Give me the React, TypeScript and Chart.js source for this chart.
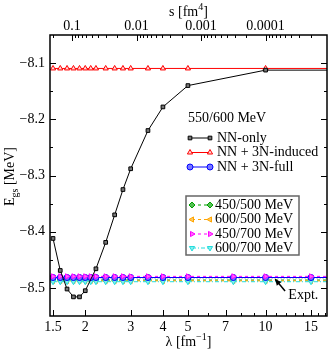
import React, { useEffect, useRef } from 'react';
import { Chart, registerables } from 'chart.js';
import { drawPoint } from 'chart.js/helpers';

Chart.register(...registerables);

const FONT = '"Liberation Serif", "Times New Roman", serif';

// ---- data ----
const lambdaNN = [1.5, 1.6, 1.7, 1.8, 1.9, 2.0, 2.2, 2.4, 2.6, 2.8, 3.0, 3.5, 4.0, 5.0, 10.0, 20.0];
const egsNNOnly = [-8.412, -8.469, -8.502, -8.516, -8.516, -8.505, -8.466, -8.419, -8.370, -8.325, -8.288, -8.220, -8.178, -8.140, -8.1125, -8.1125];

const lambdaInduced = [1.5, 1.6, 1.7, 1.8, 1.9, 2.0, 2.1, 2.2, 2.4, 2.6, 2.8, 3.0, 3.5, 4.0, 5.0, 10.0, 20.0];
const egsInduced = [-8.1095, -8.1095, -8.1095, -8.1095, -8.1095, -8.1095, -8.1095, -8.1095, -8.1095, -8.1095, -8.1095, -8.1095, -8.1095, -8.1095, -8.1095, -8.1095, -8.1095];

const lambdaFull = [1.5, 1.6, 1.7, 1.8, 1.9, 2.0, 2.1, 2.2, 2.4, 2.6, 2.8, 3.0, 3.5, 4.0, 5.0, 7.5, 10.0, 15.0, 20.0];
const egsFull = [-8.4815, -8.4815, -8.4815, -8.4815, -8.4815, -8.4815, -8.4815, -8.4815, -8.4815, -8.4815, -8.4815, -8.4815, -8.4815, -8.4815, -8.4815, -8.4815, -8.4815, -8.4815, -8.4815];
const egs450_500 = [-8.486, -8.486, -8.486, -8.486, -8.486, -8.486, -8.486, -8.486, -8.486, -8.486, -8.486, -8.486, -8.486, -8.486, -8.486, -8.486, -8.486, -8.486, -8.486];
const egs600_500 = [-8.4875, -8.4875, -8.4875, -8.4875, -8.4875, -8.4875, -8.4875, -8.4875, -8.4875, -8.4875, -8.4875, -8.4875, -8.4875, -8.4875, -8.4875, -8.4875, -8.4875, -8.4875, -8.4875];
const egs450_700 = [-8.4795, -8.4795, -8.4795, -8.4795, -8.4795, -8.4795, -8.4795, -8.4795, -8.4795, -8.4795, -8.4795, -8.4795, -8.4795, -8.4795, -8.4795, -8.4795, -8.4795, -8.4795, -8.4795];
const egs600_700 = [-8.489, -8.489, -8.489, -8.489, -8.489, -8.489, -8.489, -8.489, -8.489, -8.489, -8.489, -8.489, -8.489, -8.489, -8.489, -8.489, -8.489, -8.489, -8.489];

const lambdaExpt = [1.0, 20.0];
const egsExpt = [-8.482, -8.482];

const legend1Title = '550/600 MeV';
const legend1Labels = ['NN-only', 'NN + 3N-induced', 'NN + 3N-full'];
const legend2Labels = ['450/500 MeV', '600/500 MeV', '450/700 MeV', '600/700 MeV'];
const exptLabel = 'Expt.';

// ---- axes ----
const xMin = 1.46;
const xMax = 17.3;
const yMin = -8.55;
const yMax = -8.05;
const xMajor = [1.5, 2, 3, 4, 5, 7, 10, 15];
const xMinor = [6, 8, 9, 11, 12, 13, 14, 16, 17];
const xLabels = ['1.5', '2', '3', '4', '5', '7', '10', '15'];
const yMajor = [-8.5, -8.4, -8.3, -8.2, -8.1];
const yMinor = [-8.45, -8.35, -8.25, -8.15];
const sMajor = [0.1, 0.01, 0.001, 0.0001];
const sLabels = ['0.1', '0.01', '0.001', '0.0001'];
const sMinorMantissa = [2, 3, 4, 5, 6, 7, 8, 9];
const sMinorExp = [-1, -2, -3, -4, -5];

const lamOfS = (s: number) => Math.pow(s, -0.25);
const sMinor: number[] = [];
sMinorExp.forEach((e) => sMinorMantissa.forEach((m) => sMinor.push(m * Math.pow(10, e))));

const pts = (xs: number[], ys: number[]) => xs.map((x, i) => ({ x, y: ys[i] }));

function drawLegendRow(ctx: CanvasRenderingContext2D, ds: any, x1: number, x2: number, y: number, tx: number, label: string) {
  ctx.save();
  ctx.strokeStyle = ds.borderColor;
  ctx.lineWidth = ds.borderWidth;
  ctx.setLineDash(ds.borderDash || []);
  ctx.beginPath();
  ctx.moveTo(x1, y);
  ctx.lineTo(x2, y);
  ctx.stroke();
  ctx.setLineDash([]);
  ctx.fillStyle = ds.pointBackgroundColor;
  ctx.strokeStyle = ds.pointBorderColor;
  ctx.lineWidth = 1;
  const po = { pointStyle: ds.pointStyle, radius: ds.pointRadius, rotation: ds.pointRotation || 0, borderWidth: 1 };
  drawPoint(ctx, po as any, x1, y);
  drawPoint(ctx, po as any, x2, y);
  ctx.fillStyle = '#000';
  ctx.font = `14px ${FONT}`;
  ctx.textAlign = 'left';
  ctx.textBaseline = 'middle';
  ctx.fillText(label, tx, y);
  ctx.restore();
}

const decorPlugin = {
  id: 'decor',
  afterDatasetsDraw(chart: any) {
    const { ctx, chartArea: a, scales } = chart;
    const xs = scales.x;
    const ys = scales.y;
    const MAJ = 6;
    const MIN = 3;
    ctx.save();
    ctx.strokeStyle = '#000';
    ctx.lineWidth = 1;
    const tick = (px: number, py: number, dx: number, dy: number) => {
      ctx.beginPath();
      ctx.moveTo(px, py);
      ctx.lineTo(px + dx, py + dy);
      ctx.stroke();
    };
    xMajor.forEach((v) => tick(Math.round(xs.getPixelForValue(v)) + 0.5, a.bottom, 0, -MAJ));
    xMinor.forEach((v) => {
      if (v < xMax) tick(Math.round(xs.getPixelForValue(v)) + 0.5, a.bottom, 0, -MIN);
    });
    sMajor.forEach((s) => {
      const l = lamOfS(s);
      if (l > xMin && l < xMax) tick(Math.round(xs.getPixelForValue(l)) + 0.5, a.top, 0, MAJ);
    });
    sMinor.forEach((s) => {
      const l = lamOfS(s);
      if (l > xMin && l < xMax) tick(Math.round(xs.getPixelForValue(l)) + 0.5, a.top, 0, MIN);
    });
    yMajor.forEach((v) => {
      const p = Math.round(ys.getPixelForValue(v)) + 0.5;
      tick(a.left, p, MAJ, 0);
      tick(a.right, p, -MAJ, 0);
    });
    yMinor.forEach((v) => {
      const p = Math.round(ys.getPixelForValue(v)) + 0.5;
      tick(a.left, p, MIN, 0);
      tick(a.right, p, -MIN, 0);
    });
    ctx.lineWidth = 1.5;
    ctx.strokeRect(a.left, a.top, a.right - a.left, a.bottom - a.top);

    // axis titles
    ctx.fillStyle = '#000';
    ctx.textBaseline = 'alphabetic';
    ctx.textAlign = 'left';
    const big = `14px ${FONT}`;
    const small = `10px ${FONT}`;
    const drawParts = (parts: [string, string, number][], cx: number, base: number) => {
      let w = 0;
      parts.forEach(([t, f]) => { ctx.font = f; w += ctx.measureText(t).width; });
      let x = cx - w / 2;
      parts.forEach(([t, f, dy]) => { ctx.font = f; ctx.fillText(t, x, base + dy); x += ctx.measureText(t).width; });
    };
    const cx = (a.left + a.right) / 2;
    drawParts([['s [fm', big, 0], ['4', small, -6], [']', big, 0]], cx, 16);
    drawParts([['\u03bb [fm', big, 0], ['\u22121', small, -6], [']', big, 0]], cx, 346);
    ctx.save();
    ctx.translate(14, (a.top + a.bottom) / 2 + 1);
    ctx.rotate(-Math.PI / 2);
    drawParts([['E', big, 0], ['gs', small, 4], [' [MeV]', big, 0]], 0, 0);
    ctx.restore();

    // legends
    const dsets = chart.data.datasets;
    ctx.font = big;
    ctx.textBaseline = 'middle';
    ctx.fillText(legend1Title, 188, 118);
    drawLegendRow(ctx, dsets[0], 190, 210, 138, 217, legend1Labels[0]);
    drawLegendRow(ctx, dsets[1], 190, 210, 152.5, 217, legend1Labels[1]);
    drawLegendRow(ctx, dsets[2], 190, 210, 167, 217, legend1Labels[2]);

    ctx.fillStyle = '#fff';
    ctx.fillRect(186, 196, 113, 59);
    ctx.strokeStyle = '#666';
    ctx.lineWidth = 1.5;
    ctx.strokeRect(186, 196, 113, 59);
    drawLegendRow(ctx, dsets[3], 192, 210, 205, 215, legend2Labels[0]);
    drawLegendRow(ctx, dsets[4], 192, 210, 219.5, 215, legend2Labels[1]);
    drawLegendRow(ctx, dsets[5], 192, 210, 234, 215, legend2Labels[2]);
    drawLegendRow(ctx, dsets[6], 192, 210, 248, 215, legend2Labels[3]);

    // Expt. annotation
    const tipX = xs.getPixelForValue(10.9);
    const tipY = ys.getPixelForValue(-8.4845);
    const tailX = xs.getPixelForValue(11.9);
    const tailY = ys.getPixelForValue(-8.5055);
    ctx.strokeStyle = '#000';
    ctx.fillStyle = '#000';
    ctx.lineWidth = 1.5;
    ctx.beginPath();
    ctx.moveTo(tailX, tailY);
    ctx.lineTo(tipX, tipY);
    ctx.stroke();
    const ang = Math.atan2(tipY - tailY, tipX - tailX);
    const hl = 6;
    const hw = 3;
    ctx.beginPath();
    ctx.moveTo(tipX, tipY);
    ctx.lineTo(tipX - hl * Math.cos(ang) + hw * Math.sin(ang), tipY - hl * Math.sin(ang) - hw * Math.cos(ang));
    ctx.lineTo(tipX - hl * Math.cos(ang) - hw * Math.sin(ang), tipY - hl * Math.sin(ang) + hw * Math.cos(ang));
    ctx.closePath();
    ctx.fill();
    ctx.font = big;
    ctx.textBaseline = 'middle';
    ctx.textAlign = 'left';
    ctx.fillText(exptLabel, xs.getPixelForValue(12.25), ys.getPixelForValue(-8.513));
    ctx.restore();
  },
};

export default function App() {
  const ref = useRef<HTMLCanvasElement | null>(null);
  useEffect(() => {
    document.body.style.margin = '0';
    const canvas = ref.current;
    if (!canvas) return;
    const base = { borderWidth: 1, pointRadius: 3, pointBorderWidth: 1, tension: 0, fill: false };
    const chart = new Chart(canvas, {
      type: 'line',
      data: {
        datasets: [
          { ...base, label: legend1Labels[0], data: pts(lambdaNN, egsNNOnly), borderColor: '#000', pointBorderColor: '#000', pointBackgroundColor: '#777', pointStyle: 'rect', pointRadius: 2.6, order: 0 },
          { ...base, label: legend1Labels[1], data: pts(lambdaInduced, egsInduced), borderColor: '#ff0000', pointBorderColor: '#ff0000', pointBackgroundColor: '#ffd6d6', pointStyle: 'triangle', order: 1 },
          { ...base, label: legend1Labels[2], data: pts(lambdaFull, egsFull), borderColor: '#0000ff', pointBorderColor: '#0000ff', pointBackgroundColor: '#7777ff', pointStyle: 'circle', order: 3 },
          { ...base, label: legend2Labels[0], data: pts(lambdaFull, egs450_500), borderColor: '#00a000', borderDash: [3, 3], pointBorderColor: '#00a000', pointBackgroundColor: '#55c055', pointStyle: 'rectRot', order: 6 },
          { ...base, label: legend2Labels[1], data: pts(lambdaFull, egs600_500), borderColor: '#ffa500', borderDash: [3, 3], pointBorderColor: '#ffa500', pointBackgroundColor: '#ffc860', pointStyle: 'triangle', pointRotation: -90, order: 5 },
          { ...base, label: legend2Labels[2], data: pts(lambdaFull, egs450_700), borderColor: '#ff00ff', borderDash: [3, 3], pointBorderColor: '#ff00ff', pointBackgroundColor: '#ff66ff', pointStyle: 'triangle', pointRotation: 90, order: 2 },
          { ...base, label: legend2Labels[3], data: pts(lambdaFull, egs600_700), borderColor: '#22dddd', borderDash: [4, 2, 1, 2], pointBorderColor: '#22dddd', pointBackgroundColor: '#88eeee', pointStyle: 'triangle', pointRotation: 180, order: 4 },
          { ...base, label: exptLabel, data: pts(lambdaExpt, egsExpt), borderColor: '#000', borderDash: [1, 2], pointRadius: 0, order: 7 },
        ],
      },
      options: {
        responsive: false,
        animation: false,
        layout: { padding: { left: 0, right: 2, top: 0, bottom: 0 } },
        plugins: { legend: { display: false }, tooltip: { enabled: false } },
        scales: {
          x: {
            type: 'logarithmic',
            position: 'bottom',
            min: xMin,
            max: xMax,
            grid: { display: false, drawTicks: false },
            border: { display: false },
            afterBuildTicks: (s: any) => {
              s.ticks = xMajor.map((v, i) => ({ value: v, lbl: xLabels[i] }));
            },
            ticks: {
              autoSkip: false,
              maxRotation: 0,
              padding: 3,
              color: '#000',
              font: { family: FONT, size: 14 },
              callback: (_v: any, i: number, t: any[]) => t[i].lbl,
            },
            afterFit: (s: any) => { s.height = 36; },
          },
          x2: {
            type: 'logarithmic',
            position: 'top',
            min: xMin,
            max: xMax,
            grid: { display: false, drawTicks: false },
            border: { display: false },
            afterBuildTicks: (s: any) => {
              s.ticks = sMajor.map((v, i) => ({ value: lamOfS(v), lbl: sLabels[i] }));
            },
            ticks: {
              autoSkip: false,
              maxRotation: 0,
              padding: 0,
              color: '#000',
              font: { family: FONT, size: 14 },
              callback: (_v: any, i: number, t: any[]) => t[i].lbl,
            },
            afterFit: (s: any) => { s.height = 35; },
          },
          y: {
            type: 'linear',
            min: yMin,
            max: yMax,
            grid: { display: false, drawTicks: false },
            border: { display: false },
            afterBuildTicks: (s: any) => {
              s.ticks = yMajor.map((v) => ({ value: v }));
            },
            ticks: {
              padding: 5,
              color: '#000',
              font: { family: FONT, size: 14 },
              callback: (v: any) => Number(v).toFixed(1).replace('-', '\u2212'),
            },
            afterFit: (s: any) => { s.width = 50; },
          },
        },
      } as any,
      plugins: [decorPlugin],
    });
    return () => chart.destroy();
  }, []);
  return (
    <div style={{ position: 'absolute', left: 0, top: 0, width: 332, height: 352, background: '#fff' }}>
      <canvas ref={ref} width={332} height={352} style={{ width: 332, height: 352, display: 'block' }} />
    </div>
  );
}
